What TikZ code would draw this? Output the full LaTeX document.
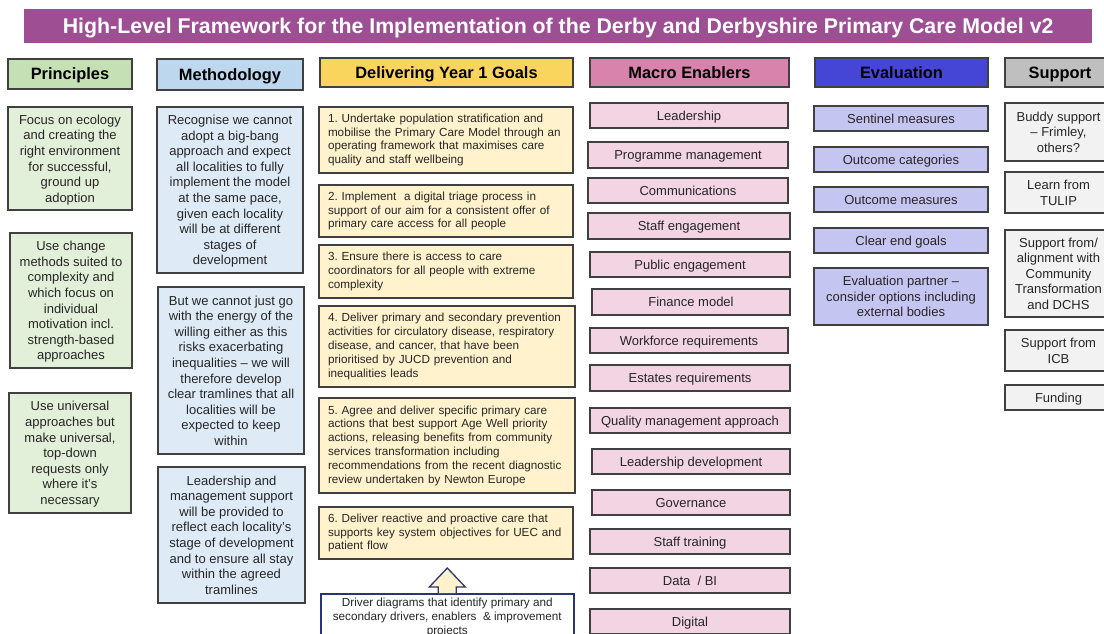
\documentclass[tikz,border=0pt]{standalone}
\usepackage{fontspec}
\setmainfont{Liberation Sans}
\frenchspacing
\definecolor{titlepurple}{HTML}{9E4F94}
\definecolor{bordergrey}{HTML}{404040}
\definecolor{prinhead}{HTML}{C5E0B4}
\definecolor{prinbox}{HTML}{E2F0D9}
\definecolor{methhead}{HTML}{BDD7EE}
\definecolor{methbox}{HTML}{DEEBF7}
\definecolor{goalhead}{HTML}{FAD55E}
\definecolor{goalbox}{HTML}{FFF2CC}
\definecolor{machead}{HTML}{D783AC}
\definecolor{macbox}{HTML}{F2D4E2}
\definecolor{evalhead}{HTML}{4646D6}
\definecolor{evalbox}{HTML}{C5C5F1}
\definecolor{supphead}{HTML}{BFBFBF}
\definecolor{suppbox}{HTML}{F2F2F2}
\definecolor{navy}{HTML}{2B3475}
\newcommand\mybox[7]{\node[#2,anchor=north west,minimum width={#5-#3},minimum height={#6-#4}] (#1) at (#3,#4) {#7};}
\tikzset{
  base/.style={draw=bordergrey,line width=1.1pt,inner sep=0pt,outer sep=0pt},
  head/.style={base,text depth=0pt,font=\fontsize{16.4}{18}\selectfont\bfseries},
  body/.style={base,text depth=0pt,align=center,font=\fontsize{13}{15.6}\selectfont,text=black!85},
  goal/.style={base,fill=goalbox,align=left,font=\fontsize{11.7}{13.8}\selectfont,text=black!85},
  enab/.style={base,text depth=0pt,align=center,font=\fontsize{13}{15.6}\selectfont,text=black!85},
}
\begin{document}
\begin{tikzpicture}[x=1pt,y=-1pt]
\useasboundingbox (0,0) rectangle (1104,634);
\clip (0,0) rectangle (1104,634);
% title
\mybox{title}{draw=none,fill=titlepurple,inner sep=0pt,text depth=0pt,text=white,font=\fontsize{21.3}{24}\selectfont\bfseries}{24}{9}{1092}{43}{High-Level Framework for the Implementation of the Derby and Derbyshire Primary Care Model v2}
% headers
\mybox{hprin}{head,fill=prinhead}{8}{59}{132}{89}{Principles}
\mybox{hmeth}{head,fill=methhead}{157}{59}{303}{90}{Methodology}
\mybox{hgoal}{head,fill=goalhead}{320}{58}{573}{87}{Delivering Year 1 Goals}
\mybox{hmac}{head,fill=machead}{590}{58}{789}{87}{Macro Enablers}
\mybox{heval}{head,fill=evalhead}{815}{58}{988}{87}{Evaluation}
\mybox{hsupp}{head,fill=supphead}{1005}{58}{1115}{87}{Support}
% principles
\mybox{p1}{body,fill=prinbox}{8}{107}{132}{210}{Focus on ecology\\and creating the\\right environment\\for successful,\\ground up\\adoption}
\mybox{p2}{body,fill=prinbox}{10}{233}{132}{368}{Use change\\methods suited to\\complexity and\\which focus on\\individual\\motivation incl.\\strength-based\\approaches}
\mybox{p3}{body,fill=prinbox}{9}{393}{131}{513}{Use universal\\approaches but\\make universal,\\top-down\\requests only\\where it's\\necessary}
% methodology
\mybox{m1}{body,fill=methbox}{157}{107}{303}{273}{Recognise we cannot\\adopt a big-bang\\approach and expect\\all localities to fully\\implement the model\\at the same pace,\\given each locality\\will be at different\\stages of\\development}
\mybox{m2}{body,fill=methbox}{158}{287}{304}{454}{But we cannot just go\\with the energy of the\\willing either as this\\risks exacerbating\\inequalities -- we will\\therefore develop\\clear tramlines that all\\localities will be\\expected to keep\\within}
\mybox{m3}{body,fill=methbox}{158}{467}{305}{603}{Leadership and\\management support\\will be provided to\\reflect each locality's\\stage of development\\and to ensure all stay\\within the agreed\\tramlines}
% goals
\mybox{g1}{goal,text width=236pt}{319}{107}{573}{173}{1. Undertake population stratification and\\mobilise the Primary Care Model through an\\operating framework that maximises care\\quality and staff wellbeing}
\mybox{g2}{goal,text width=236pt}{319}{185}{573}{237}{2. Implement\ \ a digital triage process in\\support of our aim for a consistent offer of\\primary care access for all people}
\mybox{g3}{goal,text width=236pt}{319}{245}{573}{298}{3. Ensure there is access to care\\coordinators for all people with extreme\\complexity}
\mybox{g4}{goal,text width=238pt}{319}{306}{575}{387}{4. Deliver primary and secondary prevention\\activities for circulatory disease, respiratory\\disease, and cancer, that have been\\prioritised by JUCD prevention and\\inequalities leads}
\mybox{g5}{goal,text width=238pt}{319}{398}{575}{493}{5. Agree and deliver specific primary care\\actions that best support Age Well priority\\actions, releasing benefits from community\\services transformation including\\recommendations from the recent diagnostic\\review undertaken by Newton Europe}
\mybox{g6}{goal,text width=236pt}{319}{507}{573}{559}{6. Deliver reactive and proactive care that\\supports key system objectives for UEC and\\patient flow}
\node[draw=navy,line width=1.6pt,fill=white,anchor=north west,minimum width=253pt,minimum height=45pt,inner sep=0pt,text depth=0pt,align=center,font=\fontsize{11.7}{13.6}\selectfont,text=black!85] (drv) at (320,593) {Driver diagrams that identify primary and\\secondary drivers, enablers\ \ \& improvement\\projects};
\draw[draw=navy,line width=1.3pt,fill=goalbox,line join=miter]
  ([xshift=-9pt]drv.north) -- ++(0,-6) -- ++(-9,0) -- ([yshift=25pt]drv.north) -- ([xshift=18pt,yshift=6pt]drv.north) -- ++(-9,0) -- ([xshift=9pt]drv.north);
% macro enablers
\mybox{e1}{enab,fill=macbox}{590}{103}{788}{128}{Leadership}
\mybox{e2}{enab,fill=macbox}{588}{142}{788}{168}{Programme management}
\mybox{e3}{enab,fill=macbox}{588}{178}{788}{203}{Communications}
\mybox{e4}{enab,fill=macbox}{588}{213}{790}{239}{Staff engagement}
\mybox{e5}{enab,fill=macbox}{590}{252}{790}{277}{Public engagement}
\mybox{e6}{enab,fill=macbox}{592}{289}{790}{315}{Finance model}
\mybox{e7}{enab,fill=macbox}{590}{328}{788}{353}{Workforce requirements}
\mybox{e8}{enab,fill=macbox}{590}{365}{790}{391}{Estates requirements}
\mybox{e9}{enab,fill=macbox}{590}{408}{790}{433}{Quality management approach}
\mybox{e10}{enab,fill=macbox}{592}{449}{790}{474}{Leadership development}
\mybox{e11}{enab,fill=macbox}{592}{490}{790}{515}{Governance}
\mybox{e12}{enab,fill=macbox}{590}{529}{790}{554}{Staff training}
\mybox{e13}{enab,fill=macbox}{590}{568}{790}{593}{Data\ \ / BI}
\mybox{e14}{enab,fill=macbox}{590}{609}{790}{634}{Digital}
% evaluation
\mybox{v1}{enab,fill=evalbox}{814}{106}{988}{131}{Sentinel measures}
\mybox{v2}{enab,fill=evalbox}{814}{147}{988}{172}{Outcome categories}
\mybox{v3}{enab,fill=evalbox}{814}{187}{988}{212}{Outcome measures}
\mybox{v4}{enab,fill=evalbox}{814}{228}{988}{253}{Clear end goals}
\mybox{v5}{body,fill=evalbox}{814}{268}{988}{325}{Evaluation partner --\\consider options including\\external bodies}
% support
\mybox{s1}{body,fill=suppbox}{1005}{103}{1112}{161}{Buddy support\\-- Frimley,\\others?}
\mybox{s2}{body,fill=suppbox}{1005}{172}{1112}{213}{Learn from\\TULIP}
\mybox{s3}{body,fill=suppbox}{1005}{230}{1112}{317}{Support from/\\alignment with\\Community\\Transformation\\and DCHS}
\mybox{s4}{body,fill=suppbox}{1005}{330}{1112}{371}{Support from\\ICB}
\mybox{s5}{body,fill=suppbox}{1005}{385}{1112}{410}{Funding}
\end{tikzpicture}
\end{document}
